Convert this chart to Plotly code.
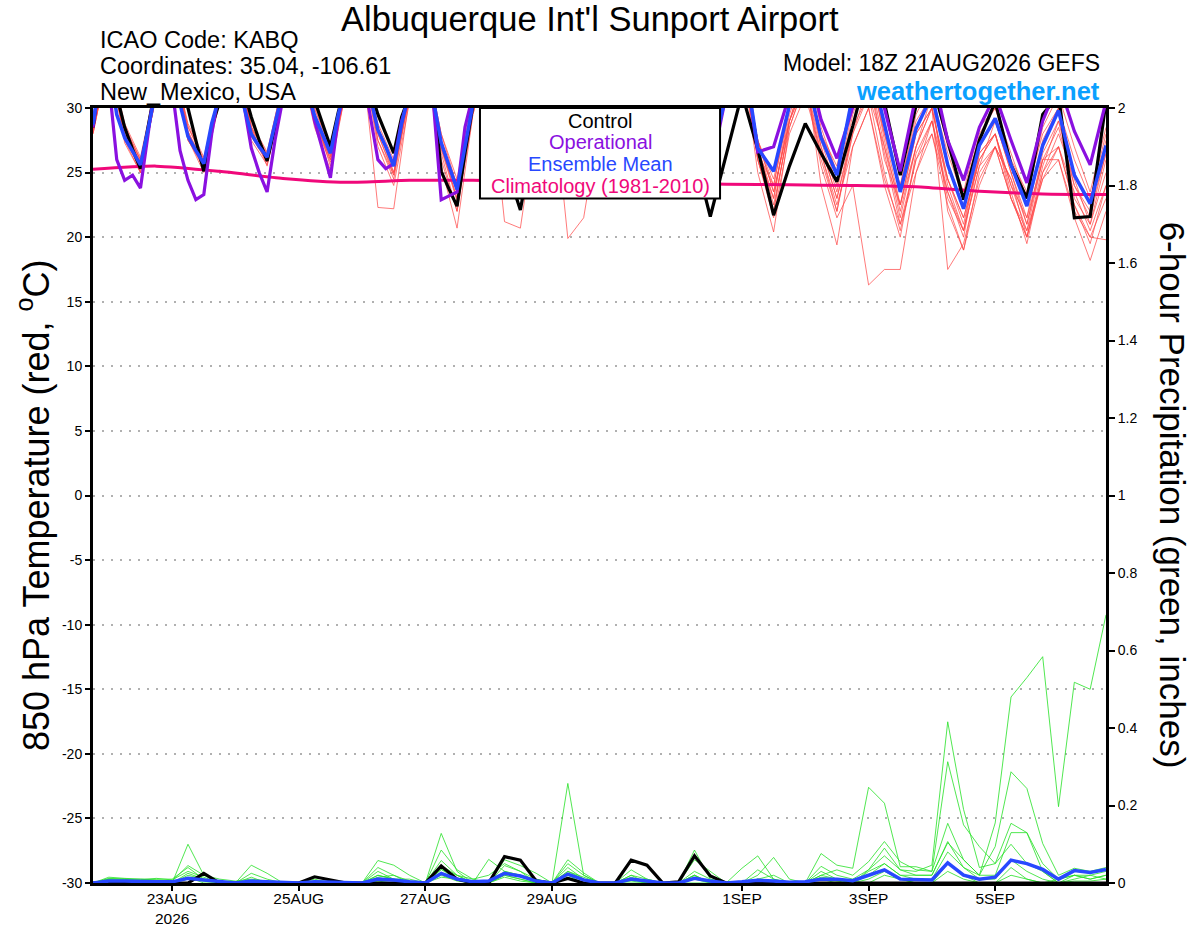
import pandas as pd
import plotly.graph_objects as go

# ---- data -----------------------------------------------------------------
# 3-hourly to 240h, then 6-hourly (GEFS output steps)
t_temp = pd.date_range("2026-08-21 18:00", "2026-08-31 18:00", freq="3h").append(
    pd.date_range("2026-09-01 00:00", "2026-09-06 18:00", freq="6h"))
t_6h = pd.date_range("2026-08-21 18:00", "2026-09-06 18:00", freq="6h")
t_clim = pd.date_range("2026-08-21 18:00", "2026-09-06 18:00", freq="1D")

ctrl_t = [28.5, 33,
          34, 31, 28.5, 26.8, 25.3, 28.5, 32, 34,
          35, 32, 30, 27.5, 25.1, 28.5, 30.5, 34,
          34, 31.5, 29.3, 27.5, 25.9, 28.5, 31, 34,
          34, 32, 30.6, 28.8, 27.0, 29.7, 32, 34,
          34, 31.5, 29.5, 28, 26.5, 29.3, 31, 34,
          34, 31, 25.1, 23.7, 22.4, 26.5, 30.2, 33,
          34, 31, 26.5, 24, 22.1, 25.5, 30, 33,
          34, 31, 28, 26, 24.5, 28, 31, 34,
          34, 31, 28, 26.5, 24.8, 28, 31, 34,
          34, 31, 27, 24, 21.6, 24.0, 26.3,
          31.1, 26.8, 21.7, 25.5,
          28.8, 26.5, 24.3, 28.6,
          33.3, 30.4, 24.8, 30.2,
          32, 27.5, 22.9, 27.5,
          30.5, 25.6, 23.0, 29.5,
          31, 21.5, 21.6, 30.5]

oper_t = [28.5, 33,
          32, 26.0, 24.4, 24.8, 23.8, 28, 32.5, 34.5,
          31.5, 26.7, 24.4, 22.9, 23.3, 28, 31.5, 34,
          34, 30.5, 26.9, 25.0, 23.5, 27.5, 31, 34,
          34, 32, 29, 26.8, 24.6, 29.3, 32, 34,
          33, 29.5, 26.0, 25.3, 25.7, 29.0, 31, 34,
          34, 30.5, 22.9, 23.2, 23.5, 28.5, 31, 33,
          33, 30, 27, 25.5, 24.2, 27.5, 31, 34,
          34, 31, 28, 26.5, 25.5, 28.5, 31.5, 34,
          34, 31, 28.5, 26.5, 25.2, 28.5, 31, 34,
          34, 31, 28, 26.5, 25, 28, 31,
          35, 26.6, 27.0, 31,
          34, 29.1, 26.1, 30.2,
          34, 30, 25.1, 31,
          33, 27.5, 24.4, 28.5,
          31, 27.5, 24.2, 29,
          32, 28.2, 25.6, 30.5]

mean_t = [28.7, 33,
          33.5, 29.5, 27.7, 26.6, 25.6, 28.5, 31.5, 33.5,
          34, 30.3, 27.8, 26.7, 25.7, 28.8, 31, 34,
          34, 30.3, 28.0, 27.0, 26.2, 28.8, 31.5, 34,
          34, 31.5, 29.4, 27.9, 26.5, 29.5, 32, 34,
          34, 31, 28.3, 27, 25.5, 28.8, 31.5, 34,
          34, 30.5, 27.3, 25.5, 23.7, 27, 30.3, 33,
          34, 31, 28, 26.2, 24.6, 27.5, 30.5, 33.5,
          34, 31, 28, 26.5, 25, 28, 31, 34,
          34, 31, 28.5, 27, 25.5, 28.5, 31, 34,
          34, 31, 28.5, 27, 25.5, 28.5, 31,
          35, 26.9, 25.1, 30.2,
          33, 27.7, 24.8, 31,
          34, 28.6, 23.5, 28.4,
          31, 25.6, 22.2, 27.1,
          29.2, 25.6, 22.4, 27.1,
          29.8, 24.8, 22.6, 27.1]

clim_t = [25.25, 25.5, 25.1, 24.55, 24.25, 24.4, 24.4, 24.3, 24.25,
          24.2, 24.1, 24.05, 24.0, 23.9, 23.55, 23.35, 23.3]

# ensemble members, 850 hPa temperature (6-hourly)
members_t = [
    [28.0, 34, 28.0, 25.3, 31.5, 34, 27.6, 25.3, 31, 34, 27.8, 25.8, 31.5, 34, 29.0, 26.0, 32,
     34, 22.3, 22.2, 31, 34, 25.5, 20.7, 29.5, 34, 28.5, 24.8, 31, 34, 28.0, 24.5, 31.5,
     34, 28.5, 25.5, 31, 34, 28.0, 25.0, 31, 34, 27.5, 23.5, 29, 32, 26.5, 22.0, 28.5,
     31, 27.0, 21.5, 27, 30, 24.5, 21.0, 26.5, 28, 24.0, 21.5, 26, 28.5, 24, 22.0, 26.5],
    [28.5, 34, 27.5, 25.0, 31, 34, 28.2, 25.4, 31.5, 34, 28.3, 26.0, 31, 34, 29.5, 25.5, 31.5,
     34, 28.0, 25.0, 31.5, 34, 27.0, 23.0, 30.5, 33, 21.2, 20.7, 29, 34, 27.5, 24.5, 31,
     34, 28.0, 25.0, 31, 34, 29.0, 26.0, 31.5, 34, 26.5, 24.0, 30, 33, 27.5, 23.5, 29.5,
     33, 27.0, 22.5, 28, 30, 24.0, 20.5, 27, 29, 25.0, 21.5, 27.5, 30, 23.0, 21.0, 26],
    [28.8, 34, 28.5, 26.0, 31.5, 34, 28.0, 25.9, 31, 34, 28.5, 26.5, 32, 34, 30.0, 27.0, 32,
     34, 28.5, 25.5, 31, 34, 27.5, 23.5, 30, 34, 27.5, 24.0, 30, 32, 19.9, 21.5, 29,
     33, 27.5, 24.5, 30.5, 34, 28.5, 25.0, 31, 34, 26.0, 22.0, 29, 33, 28.0, 25.0, 31,
     34, 27.5, 22.0, 27, 31, 22.0, 19.0, 25, 27, 24.5, 20.0, 25.5, 29, 25.0, 22.5, 27.5],
    [28.2, 34, 27.8, 25.5, 31, 34, 27.5, 25.5, 31, 34, 28.0, 26.0, 31.5, 34, 29.2, 26.3, 32,
     34, 27.5, 24.8, 31.5, 34, 26.8, 22.8, 30, 34, 28.0, 25.0, 31, 34, 28.5, 25.5, 31.5,
     34, 28.0, 24.8, 31, 34, 28.5, 25.5, 31, 34, 25.0, 20.4, 28.5, 32, 27.0, 23.0, 28,
     32, 26.5, 21.0, 26, 28, 23.5, 20.0, 26.5, 28, 24.0, 20.5, 26, 27, 22.5, 19.5, 24],
    [28.5, 34, 28.3, 25.8, 31.5, 34, 28.5, 26.0, 31, 34, 28.5, 25.5, 31, 34, 29.6, 26.5, 32,
     34, 28.5, 25.0, 31, 34, 26.5, 22.0, 30.5, 34, 28.0, 24.0, 30.5, 34, 27.5, 24.5, 31,
     34, 28.5, 26.0, 31.5, 34, 28.0, 25.5, 31, 34, 26.5, 23.0, 29.5, 33, 24.0, 19.4, 27,
     30, 24.0, 20.0, 26.5, 29, 24.5, 21.5, 26, 28, 23.5, 19.5, 25, 28, 24.5, 21.0, 25],
    [28.0, 34, 28.0, 25.0, 31, 34, 28.0, 25.2, 31, 34, 28.2, 25.8, 31.5, 34, 28.8, 25.8, 31.5,
     34, 27.5, 24.5, 31, 34, 27.0, 23.0, 30, 34, 27.5, 23.5, 30, 34, 27.0, 23.0, 30.5,
     34, 28.0, 25.0, 31, 34, 29.0, 26.0, 31.5, 34, 27.0, 22.5, 28.5, 32, 25.5, 21.5, 24,
     16.3, 17.5, 17.5, 25, 29, 23.5, 20.5, 25.5, 27, 23.0, 20.5, 24.5, 26, 22.0, 20.0, 23],
    [28.6, 34, 28.4, 25.9, 31, 34, 28.8, 26.2, 31.5, 34, 28.6, 26.3, 31, 34, 29.9, 26.8, 32,
     34, 28.2, 25.8, 31.5, 34, 28.0, 24.0, 30.5, 34, 28.5, 25.0, 31, 34, 28.0, 25.5, 31,
     34, 29.0, 25.5, 31, 34, 28.5, 25.0, 31, 34, 27.0, 23.0, 30, 33, 28.0, 24.0, 30,
     33, 28.0, 22.5, 28, 30, 17.5, 19.5, 24.5, 27, 24.5, 21.0, 26.5, 29, 24.0, 21.5, 26.5],
    [28.3, 34, 27.6, 25.4, 31, 34, 27.5, 25.6, 31, 34, 27.8, 26.0, 31, 34, 28.8, 26.2, 31.5,
     34, 28.0, 24.8, 31, 34, 27.0, 23.5, 30, 34, 28.0, 24.5, 30.5, 34, 28.5, 25.0, 31.5,
     34, 28.5, 25.5, 31, 34, 29.0, 25.5, 31.5, 34, 26.0, 22.0, 29, 32, 26.0, 22.0, 28,
     31, 25.0, 20.5, 26, 29, 23.0, 20.5, 25.5, 29, 25.0, 21.0, 26, 26, 21.5, 18.2, 22],
    [28.4, 34, 28.8, 26.2, 32, 34, 28.2, 25.8, 31.5, 34, 28.4, 26.4, 31.5, 34, 29.2, 26.0, 32,
     34, 28.5, 25.5, 31, 34, 27.5, 24.0, 30, 34, 27.5, 24.0, 30, 34, 28.0, 24.5, 30.5,
     34, 28.0, 25.5, 31, 34, 28.5, 25.5, 31, 34, 27.5, 23.5, 29, 33, 27.0, 23.0, 28.5,
     33, 26.0, 22.5, 27, 30, 24.5, 21.5, 26, 28, 23.0, 20.0, 24.5, 27, 22.5, 20.0, 19.8],
    [28.7, 34, 28.0, 25.6, 31.5, 34, 28.0, 25.5, 31, 34, 28.0, 25.9, 31, 34, 29.4, 26.4, 32,
     34, 28.3, 25.6, 31.5, 34, 27.3, 23.8, 30.5, 34, 28.0, 25.0, 31, 34, 28.5, 25.0, 31,
     34, 28.5, 25.5, 31, 34, 28.5, 25.5, 31, 34, 27.5, 24.5, 30, 33, 28.0, 25.5, 31,
     34, 28.5, 24.0, 29, 31, 26.5, 23.0, 28, 30, 26.0, 23.5, 28, 30, 26.0, 23.0, 28],
    [28.1, 34, 27.3, 25.0, 31, 34, 27.6, 25.0, 30.5, 34, 27.5, 25.6, 31, 34, 28.5, 25.2, 31.5,
     34, 27.0, 24.0, 30.5, 34, 26.0, 22.0, 29.5, 34, 27.0, 23.5, 30, 34, 27.5, 24.0, 30.5,
     34, 27.5, 24.5, 30.5, 34, 28.0, 25.0, 31, 34, 26.0, 21.5, 28, 31, 26.5, 22.5, 27,
     30, 24.5, 21.0, 25, 28, 22.5, 19.0, 24, 27, 23.0, 20.0, 25, 27, 23.5, 20.5, 24],
    [28.9, 34, 28.6, 26.0, 31.5, 34, 28.6, 26.0, 31.5, 34, 28.8, 26.6, 32, 34, 30.2, 27.2, 32.5,
     34, 28.8, 26.0, 31.5, 34, 28.0, 24.5, 31, 34, 29.0, 25.5, 31.5, 34, 28.5, 25.5, 31.5,
     34, 29.0, 26.0, 31.5, 34, 29.0, 26.0, 31.5, 34, 27.5, 24.0, 30.5, 34, 28.5, 25.0, 30.5,
     34, 28.0, 24.0, 29.5, 32, 27.0, 23.5, 28.5, 30, 26.5, 23.0, 28.5, 31, 27.0, 23.5, 28.5],
]

# 6-hour precipitation (inches)
ctrl_p = [0,
          0, 0, 0, 0, 0, 0, 0.025, 0, 0, 0, 0, 0, 0, 0.016, 0.008, 0,
          0, 0, 0, 0, 0, 0.044, 0.01, 0, 0, 0.068, 0.059, 0.005, 0, 0.012, 0, 0,
          0, 0.059, 0.046, 0, 0.003, 0.07, 0.018, 0, 0, 0, 0, 0, 0, 0, 0, 0,
          0, 0, 0, 0, 0, 0, 0, 0, 0, 0, 0, 0, 0, 0, 0, 0]

mean_p = [0,
          0.005, 0.005, 0.003, 0.003, 0.003, 0.012, 0.008, 0.003, 0, 0.005, 0.003, 0, 0, 0.003, 0.002, 0,
          0, 0.01, 0.008, 0.003, 0, 0.025, 0.01, 0.003, 0.005, 0.025, 0.018, 0.005, 0, 0.023, 0.008, 0,
          0, 0.01, 0.005, 0, 0, 0.012, 0.005, 0, 0.003, 0.007, 0.005, 0.002, 0.003, 0.01, 0.01, 0.006,
          0.02, 0.034, 0.01, 0.008, 0.008, 0.052, 0.02, 0.01, 0.015, 0.059, 0.05, 0.035, 0.01, 0.032, 0.027, 0.035]

members_p = [
    [0, 0.01, 0.01, 0, 0, 0, 0.1, 0.02, 0, 0, 0, 0, 0, 0, 0, 0, 0,
     0, 0.02, 0.01, 0, 0, 0.035, 0.01, 0, 0, 0.02, 0.01, 0, 0, 0.03, 0.01, 0,
     0, 0, 0, 0, 0, 0.02, 0, 0, 0, 0.01, 0, 0, 0, 0.02, 0.01, 0,
     0.03, 0.05, 0.02, 0.02, 0.02, 0.104, 0.06, 0.02, 0.155, 0.48, 0.53, 0.584, 0.197, 0.518, 0.5, 0.692],
    [0, 0.015, 0.012, 0.01, 0.01, 0.01, 0.04, 0.01, 0, 0, 0.025, 0.01, 0, 0, 0, 0, 0,
     0, 0.04, 0.02, 0, 0, 0.128, 0.03, 0, 0, 0.045, 0.03, 0, 0, 0.04, 0.01, 0,
     0, 0.02, 0, 0, 0, 0.06, 0.03, 0, 0, 0.034, 0.01, 0, 0, 0.043, 0.02, 0.01,
     0.034, 0.07, 0.034, 0.03, 0.046, 0.416, 0.19, 0.04, 0.05, 0.1, 0.05, 0.03, 0, 0.02, 0.01, 0.02],
    [0, 0.005, 0.005, 0, 0, 0, 0.025, 0.01, 0.005, 0, 0.046, 0.025, 0, 0, 0.01, 0, 0,
     0, 0.058, 0.046, 0.02, 0, 0.058, 0.02, 0, 0.061, 0.03, 0.02, 0, 0, 0.257, 0.02, 0,
     0, 0.034, 0.01, 0, 0, 0.02, 0, 0, 0.038, 0.07, 0.01, 0, 0, 0.076, 0.046, 0.038,
     0.247, 0.206, 0.042, 0.042, 0.03, 0.154, 0.06, 0.02, 0.094, 0.287, 0.244, 0.102, 0.02, 0.038, 0.03, 0.04],
    [0, 0.012, 0.01, 0.008, 0.012, 0.008, 0.03, 0.015, 0, 0, 0.015, 0, 0, 0, 0.005, 0.005, 0,
     0, 0.03, 0.01, 0.01, 0, 0.085, 0.034, 0.01, 0, 0.06, 0.045, 0.025, 0, 0.06, 0.026, 0,
     0, 0.01, 0, 0, 0, 0.085, 0.01, 0, 0, 0.02, 0.066, 0.01, 0, 0.02, 0.034, 0.02,
     0.055, 0.107, 0.055, 0.034, 0.03, 0.313, 0.15, 0.094, 0.05, 0.154, 0.13, 0.05, 0.01, 0.02, 0.02, 0.01],
    [0, 0.01, 0.01, 0.01, 0.008, 0.005, 0.045, 0.02, 0.01, 0.005, 0.01, 0.005, 0, 0, 0, 0, 0,
     0, 0.02, 0.01, 0, 0, 0.045, 0.02, 0.01, 0.02, 0.05, 0.03, 0.01, 0, 0.05, 0.02, 0,
     0, 0.02, 0.01, 0, 0, 0.03, 0.01, 0, 0, 0.01, 0.02, 0, 0, 0.01, 0, 0,
     0.034, 0.09, 0.034, 0.02, 0.02, 0.107, 0.04, 0.02, 0.02, 0.13, 0.13, 0.03, 0, 0.01, 0.02, 0.03],
    [0, 0.008, 0.005, 0.005, 0.005, 0, 0.02, 0.01, 0, 0, 0.005, 0, 0, 0, 0.005, 0, 0,
     0, 0.015, 0.02, 0.005, 0, 0.035, 0.02, 0, 0, 0.03, 0.02, 0.01, 0, 0.03, 0.015, 0,
     0, 0.015, 0, 0, 0, 0.02, 0, 0, 0, 0.005, 0, 0, 0, 0.03, 0.01, 0,
     0.02, 0.05, 0.02, 0.01, 0.01, 0.08, 0.04, 0.01, 0.01, 0.06, 0.03, 0.01, 0, 0.005, 0.005, 0.01],
    [0, 0, 0, 0, 0, 0, 0.015, 0, 0, 0, 0, 0, 0, 0, 0, 0, 0,
     0, 0.005, 0, 0, 0, 0.02, 0.005, 0, 0, 0.015, 0.005, 0, 0, 0.02, 0, 0,
     0, 0.005, 0, 0, 0, 0, 0, 0, 0, 0, 0, 0, 0, 0.015, 0.01, 0,
     0.01, 0.03, 0.01, 0, 0, 0.05, 0.02, 0, 0, 0.04, 0.01, 0, 0, 0, 0, 0],
    [0, 0.005, 0.005, 0, 0, 0, 0.01, 0.005, 0, 0, 0, 0, 0, 0, 0, 0, 0,
     0, 0.01, 0.005, 0, 0, 0.015, 0.01, 0, 0, 0.02, 0.01, 0, 0, 0.015, 0, 0,
     0, 0.01, 0, 0, 0, 0.01, 0, 0, 0, 0.01, 0, 0, 0, 0.01, 0.005, 0,
     0, 0.02, 0.01, 0, 0, 0.03, 0.01, 0, 0, 0.02, 0.01, 0, 0.01, 0.02, 0.01, 0.02],
]

x_tick_vals = ["2026-08-23", "2026-08-25", "2026-08-27", "2026-08-29",
               "2026-09-01", "2026-09-03", "2026-09-05"]
x_tick_text = ["23AUG<br>2026", "25AUG", "27AUG", "29AUG", "1SEP", "3SEP", "5SEP"]
t_ticks = [-30, -25, -20, -15, -10, -5, 0, 5, 10, 15, 20, 25, 30]
p_ticks = [0, 0.2, 0.4, 0.6, 0.8, 1, 1.2, 1.4, 1.6, 1.8, 2]

# ---- colours --------------------------------------------------------------
RED = "rgba(255,70,70,0.8)"
GREEN = "rgba(40,225,40,0.9)"
PURPLE = "#8a10e0"
BLUE = "#2848ff"
PINK = "#f0087a"
FONT = "Liberation Sans, Arial, sans-serif"

fig = go.Figure()

for m in members_t:
    fig.add_trace(go.Scatter(x=t_6h, y=m, mode="lines",
                             line=dict(color=RED, width=0.9), hoverinfo="skip"))

fig.add_trace(go.Scatter(x=t_clim, y=clim_t, mode="lines",
                         line=dict(color=PINK, width=3, shape="spline", smoothing=0.6)))
fig.add_trace(go.Scatter(x=t_temp, y=ctrl_t, mode="lines", line=dict(color="black", width=3.2)))
fig.add_trace(go.Scatter(x=t_temp, y=oper_t, mode="lines", line=dict(color=PURPLE, width=3.2)))
fig.add_trace(go.Scatter(x=t_temp, y=mean_t, mode="lines", line=dict(color=BLUE, width=3.5)))

for p in members_p:
    fig.add_trace(go.Scatter(x=t_6h, y=p, yaxis="y2", mode="lines",
                             line=dict(color=GREEN, width=0.9), hoverinfo="skip"))
fig.add_trace(go.Scatter(x=t_6h, y=ctrl_p, yaxis="y2", mode="lines", line=dict(color="black", width=3.2)))
fig.add_trace(go.Scatter(x=t_6h, y=mean_p, yaxis="y2", mode="lines", line=dict(color=BLUE, width=3.5)))


def ann(text, x, y, size, color="black", xanchor="center", textangle=0, bold=False):
    if bold:
        text = "<b>" + text + "</b>"
    return dict(text=text, x=x, y=y, xref="paper", yref="paper", xanchor=xanchor,
                yanchor="middle", showarrow=False, textangle=textangle,
                font=dict(family=FONT, size=size, color=color))


annotations = [
    ann("Albuquerque Int'l Sunport Airport", 0.4906, 1.1148, 34.5),
    ann("ICAO Code: KABQ", 0.005, 1.0877, 23.5, xanchor="left"),
    ann("Coordinates: 35.04, -106.61", 0.005, 1.0542, 23.5, xanchor="left"),
    ann("New_Mexico, USA", 0.005, 1.0206, 23.5, xanchor="left"),
    ann("Model: 18Z 21AUG2026 GEFS", 0.996, 1.0585, 23, xanchor="right"),
    ann("weathertogether.net", 0.996, 1.0215, 25.5, color="#0aa0ff", xanchor="right", bold=True),
    ann("850 hPa Temperature (red, <sup>o</sup>C)", -0.059, 0.488, 36, textangle=-90),
    ann("6-hour Precipitation (green, inches)", 1.066, 0.5, 35, textangle=90),
    ann("Control", 0.5005, 0.9832, 20),
    ann("Operational", 0.5005, 0.9555, 20, color=PURPLE),
    ann("Ensemble Mean", 0.5005, 0.9277, 20, color=BLUE),
    ann("Climatology (1981-2010)", 0.5005, 0.8994, 20, color=PINK),
]

fig.update_layout(
    width=1200, height=927,
    margin=dict(l=93, r=94, t=108, b=44, autoexpand=False),
    paper_bgcolor="white", plot_bgcolor="white",
    showlegend=False,
    font=dict(family=FONT, size=15, color="black"),
    annotations=annotations,
    shapes=[dict(type="rect", xref="paper", yref="paper", x0=0.382, x1=0.619,
                 y0=0.8832, y1=1.0, fillcolor="white", line=dict(color="black", width=2),
                 layer="above")],
    xaxis=dict(
        type="date", range=["2026-08-21 18:00", "2026-09-06 18:00"],
        tickmode="array", tickvals=x_tick_vals, ticktext=x_tick_text,
        ticks="outside", ticklen=5, tickwidth=1.5, tickcolor="black",
        ticklabelstandoff=-6,
        showgrid=False, zeroline=False, automargin=False,
        showline=True, linewidth=3, linecolor="black", mirror=True,
        tickfont=dict(size=15.5),
    ),
    yaxis=dict(
        range=[-30, 30], tickmode="array", tickvals=t_ticks,
        ticktext=[str(v) for v in t_ticks],
        ticks="outside", ticklen=5, tickwidth=1.5, tickcolor="black",
        showgrid=True, gridcolor="#b0b0b0", gridwidth=1.5, griddash="2px,7px",
        zeroline=False, showline=True, linewidth=3, linecolor="black",
        automargin=False, tickfont=dict(size=14),
    ),
    yaxis2=dict(
        range=[0, 2], overlaying="y", side="right", tickmode="array",
        tickvals=p_ticks, ticktext=[f"{v:g}" for v in p_ticks],
        ticks="outside", ticklen=6, tickwidth=1.5, tickcolor="black",
        showgrid=False, zeroline=False, showline=True, linewidth=3, linecolor="black",
        automargin=False, tickfont=dict(size=14),
    ),
)

fig.write_html("out.html", config={"displayModeBar": False},
               post_script="document.body.style.margin='0';")
